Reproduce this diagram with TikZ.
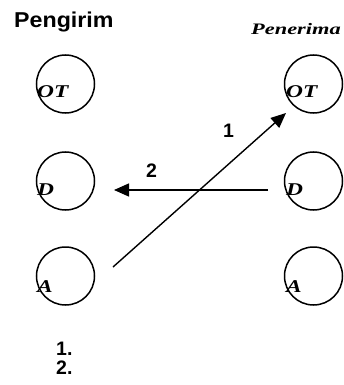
\documentclass[tikz,border=0pt]{standalone}
\usepackage{fontspec}
\setmainfont{Liberation Serif}
\newfontfamily\arialfont{Liberation Sans}
\usetikzlibrary{arrows.meta}
\tikzset{
  ring/.style={draw, circle, minimum size=58pt, inner sep=0pt, line width=1.5pt},
  inlabel/.style={anchor=base west, inner sep=0pt, font=\fontsize{18}{20}\selectfont\bfseries\itshape},
  headlabel/.style={anchor=base west, inner sep=0pt, font=\fontsize{16}{18}\selectfont\bfseries\itshape},
  sanslabel/.style={anchor=base west, inner sep=0pt, font=\fontsize{19.5}{22}\selectfont\arialfont\bfseries},
  conn/.style={line width=1.4pt, -{Triangle[length=15pt,width=13pt]}}
}
\newcommand{\widetxt}[1]{\scalebox{1.3}[1]{#1}}
\begin{document}
\begin{tikzpicture}[x=1pt,y=-1pt]
\useasboundingbox (0,0) rectangle (343,385);
% headings
\node[anchor=base west, inner sep=0pt, font=\fontsize{21.5}{24}\selectfont\arialfont\bfseries] (hsend) at (14,28) {\scalebox{1.08}[1]{Pengirim}};
\node[headlabel] (hrecv) at (251,35) {\scalebox{1.4}[1]{Penerima}};
% circles
\node[ring] (lOT) at (65.5,84) {};
\node[ring] (lD) at (65.5,181) {};
\node[ring] (lA) at (65.5,276) {};
\node[ring] (rOT) at (313.5,84) {};
\node[ring] (rD) at (313.5,181) {};
\node[ring] (rA) at (313.5,276) {};
% circle labels
\node[inlabel] (tlOT) at (37,98) {\widetxt{OT}};
\node[inlabel] (tlD) at (37,195) {\widetxt{D}};
\node[inlabel] (tlA) at (37,292) {\widetxt{A}};
\node[inlabel] (trOT) at (286,98) {\widetxt{OT}};
\node[inlabel] (trD) at (286,195) {\widetxt{D}};
\node[inlabel] (trA) at (286,292) {\widetxt{A}};
% arrows
\coordinate (a1s) at (113,267);
\coordinate (a1e) at (286,113);
\coordinate (a2s) at (268,190);
\coordinate (a2e) at (114,190);
\draw[conn] (a1s) -- (a1e);
\draw[conn] (a2s) -- (a2e);
\node[sanslabel] (n1) at (223,137) {1};
\node[sanslabel] (n2) at (146,177) {2};
% list
\node[sanslabel] (l1) at (56,355) {1.};
\node[sanslabel] (l2) at (56,374) {2.};
\end{tikzpicture}
\end{document}
